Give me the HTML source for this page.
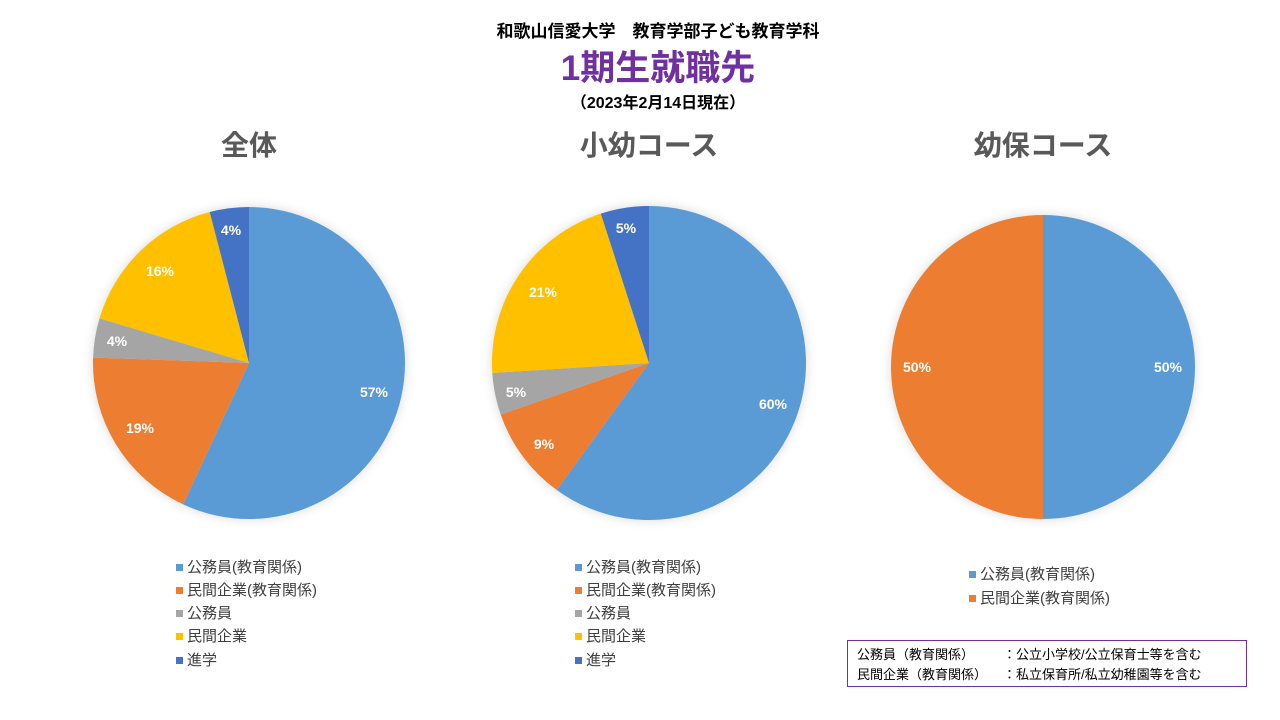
<!DOCTYPE html>
<html><head><meta charset="utf-8"><style>
body{margin:0;background:#fff;}
svg{display:block;font-family:"Liberation Sans","Noto Sans CJK JP",sans-serif;}
</style></head><body>
<svg width="1280" height="720" viewBox="0 0 1280 720">
<defs><filter id="sh" x="-20%" y="-20%" width="140%" height="140%"><feGaussianBlur stdDeviation="5"/></filter></defs>
<rect width="1280" height="720" fill="#fff"/>
<text x="658" y="37" text-anchor="middle" font-size="17" font-weight="bold" fill="#000">和歌山信愛大学　教育学部子ども教育学科</text>
<text x="658" y="80" text-anchor="middle" font-size="35" font-weight="bold" fill="#7030A0">1期生就職先</text>
<text x="658" y="108" text-anchor="middle" font-size="16" font-weight="bold" fill="#000">（2023年2月14日現在）</text>
<g font-size="28" font-weight="bold" fill="#595959" text-anchor="middle">
<text x="249" y="155">全体</text>
<text x="649" y="155">小幼コース</text>
<text x="1043" y="155">幼保コース</text>
</g>
<g fill="#000" opacity="0.12" filter="url(#sh)">
<circle cx="249" cy="363" r="157"/><circle cx="649" cy="363" r="158"/><circle cx="1043" cy="367" r="153"/>
</g>
<g>
<path d="M249,363 L249,207 A156,156 0 1 1 183.1,504.4 Z" fill="#5B9BD5"/>
<path d="M249,363 L183.1,504.4 A156,156 0 0 1 93.1,357.6 Z" fill="#ED7D31"/>
<path d="M249,363 L93.1,357.6 A156,156 0 0 1 99.5,318.4 Z" fill="#A5A5A5"/>
<path d="M249,363 L99.5,318.4 A156,156 0 0 1 209.7,212 Z" fill="#FFC000"/>
<path d="M249,363 L209.7,212 A156,156 0 0 1 249,207 Z" fill="#4472C4"/>
</g>
<g>
<path d="M649,363 L649,206 A157,157 0 1 1 556.7,490 Z" fill="#5B9BD5"/>
<path d="M649,363 L556.7,490 A157,157 0 0 1 500.7,414.6 Z" fill="#ED7D31"/>
<path d="M649,363 L500.7,414.6 A157,157 0 0 1 492.3,373 Z" fill="#A5A5A5"/>
<path d="M649,363 L492.3,373 A157,157 0 0 1 600.8,213.6 Z" fill="#FFC000"/>
<path d="M649,363 L600.8,213.6 A157,157 0 0 1 649,206 Z" fill="#4472C4"/>
</g>
<g>
<path d="M1043,367 L1043,215 A152,152 0 0 1 1043,519 Z" fill="#5B9BD5"/>
<path d="M1043,367 L1043,519 A152,152 0 0 1 1043,215 Z" fill="#ED7D31"/>
</g>
<g font-size="14" font-weight="bold" fill="#fff" text-anchor="middle">
<text x="374" y="397">57%</text><text x="140" y="433">19%</text><text x="117" y="346">4%</text><text x="160" y="276">16%</text><text x="231" y="235">4%</text>
<text x="773" y="409">60%</text><text x="544" y="449">9%</text><text x="516" y="397">5%</text><text x="543" y="297">21%</text><text x="626" y="233">5%</text>
<text x="1168" y="372">50%</text><text x="917" y="372">50%</text>
</g>
<g font-size="15" fill="#404040">
<rect x="176" y="564" width="7" height="7" fill="#5B9BD5"/><text x="187" y="572">公務員(教育関係)</text>
<rect x="176" y="587" width="7" height="7" fill="#ED7D31"/><text x="187" y="595">民間企業(教育関係)</text>
<rect x="176" y="610" width="7" height="7" fill="#A5A5A5"/><text x="187" y="618">公務員</text>
<rect x="176" y="633" width="7" height="7" fill="#FFC000"/><text x="187" y="641">民間企業</text>
<rect x="176" y="657" width="7" height="7" fill="#4472C4"/><text x="187" y="665">進学</text>
<rect x="575" y="564" width="7" height="7" fill="#5B9BD5"/><text x="586" y="572">公務員(教育関係)</text>
<rect x="575" y="587" width="7" height="7" fill="#ED7D31"/><text x="586" y="595">民間企業(教育関係)</text>
<rect x="575" y="610" width="7" height="7" fill="#A5A5A5"/><text x="586" y="618">公務員</text>
<rect x="575" y="633" width="7" height="7" fill="#FFC000"/><text x="586" y="641">民間企業</text>
<rect x="575" y="657" width="7" height="7" fill="#4472C4"/><text x="586" y="665">進学</text>
<rect x="969" y="571" width="7" height="7" fill="#5B9BD5"/><text x="980" y="579">公務員(教育関係)</text>
<rect x="969" y="595" width="7" height="7" fill="#ED7D31"/><text x="980" y="603">民間企業(教育関係)</text>
</g>
<rect x="847.5" y="640.5" width="399" height="46" fill="#fff" stroke="#7030A0" stroke-width="1"/>
<g font-size="13" fill="#000">
<text x="857" y="659">公務員（教育関係）</text><text x="1003" y="659">：公立小学校/公立保育士等を含む</text>
<text x="857" y="679">民間企業（教育関係）</text><text x="1003" y="679">：私立保育所/私立幼稚園等を含む</text>
</g>
</svg>
</body></html>
